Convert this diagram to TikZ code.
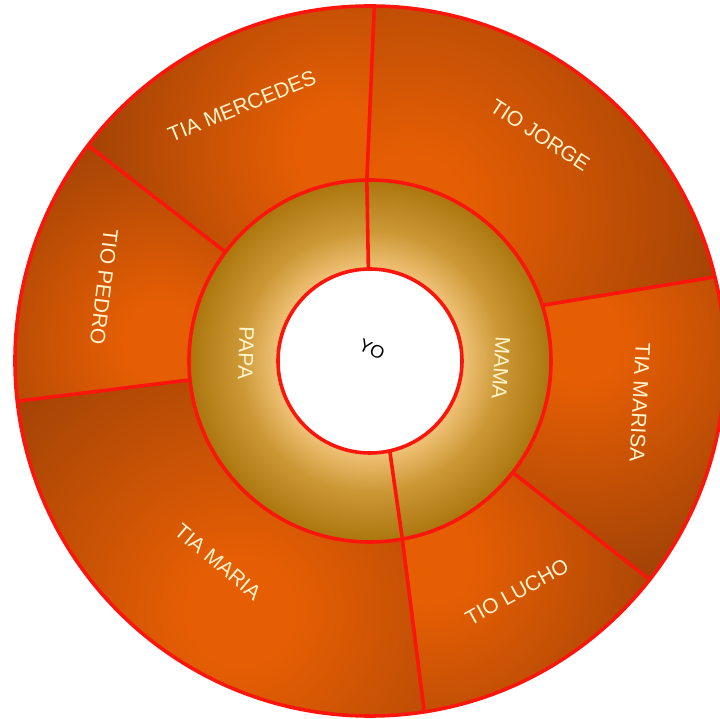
\documentclass[tikz,border=0pt]{standalone}
\usepackage{fontspec}
\setmainfont{Liberation Sans}
\definecolor{rimred}{RGB}{250,22,12}
\definecolor{segbright}{RGB}{230,94,4}
\definecolor{segdark}{RGB}{160,66,6}
\definecolor{ringlight}{RGB}{238,192,116}
\definecolor{ringmid}{RGB}{204,152,54}
\definecolor{ringdark}{RGB}{172,118,14}
\definecolor{labelcream}{RGB}{255,244,204}
\pgfdeclareradialshading{segglow}{\pgfpoint{0bp}{0bp}}{color(0bp)=(segbright); color(4bp)=(segbright); color(25bp)=(segdark); color(50bp)=(segdark)}
\pgfdeclareradialshading{ringglow}{\pgfpoint{0bp}{0bp}}{color(0bp)=(ringlight); color(13bp)=(ringlight); color(18bp)=(ringmid); color(25bp)=(ringdark); color(50bp)=(ringdark)}

\begin{document}
\begin{tikzpicture}[x=1pt, y=1pt, rim/.style={rimred, line width=3.6}, lbl/.style={text=labelcream, font=\fontsize{21}{25}\selectfont, inner sep=0pt}]
	\path[use as bounding box, clip] (-370,-358) rectangle (350,361);
	\fill[segdark] (0,0) circle (355);
	\foreach \ai/\ao/\bi/\bo/\cx/\cy/\rr in {17.9/13.7/91/89.3/40/150/330, 91/89.3/143/142.6/-30/211/260, 143/142.6/186/186.5/-210/20/220, 186/186.5/280.3/278.8/-130/-250/320, 280.3/278.8/322/322/60/-199/260, 322/322/377.9/373.7/210/21/250} {
		\begin{scope}
			\clip (0,0) circle (355);
			\clip (\ai:181) -- (\ao:355) -- (\ao:440) -- ({(\ao+\bo)/2}:640) -- (\bo:440) -- (\bo:355) -- (\bi:181) -- cycle;
			\shade[shading=segglow] (\cx,\cy) circle (\rr);
		\end{scope}
	}
	\shade[shading=ringglow, even odd rule] (0,0) circle (181) (0,0) circle (92);
	\fill[white] (0,0) circle (92);
	\draw[rim] (0,0) circle (355);
	\draw[rim] (0,0) circle (181);
	\draw[rim] (0,0) circle (92);
	\foreach \ai/\ri/\ao/\ro in {91/181/89.3/355, 143/181/142.6/355, 186/181/186.5/355, -79.7/181/-81.2/355, -38/181/-38/355, 17.9/181/13.7/355, 91/92/91/181, -77.6/92/-79.7/181} {\draw[rim] (\ai:\ri) -- (\ao:\ro);}
	\node[font=\fontsize{18}{22}\selectfont, rotate=-25] (yo) at (2,12) {YO};
	\node[lbl, rotate=-92] (papa) at (-124,8) {PAPA};
	\node[lbl, rotate=-94] (mama) at (131,-7) {MAMA};
	\node[lbl, rotate=22] (mercedes) at (-128,255) {TIA MERCEDES};
	\node[lbl, rotate=-33] (jorge) at (170,226) {TIO JORGE};
	\node[lbl, rotate=-97] (pedro) at (-266,74) {TIO PEDRO};
	\node[lbl, rotate=-93] (marisa) at (270,-41) {TIA MARISA};
	\node[lbl, rotate=-40] (maria) at (-152,-201) {TIA MARIA};
	\node[lbl, rotate=29] (lucho) at (147,-231) {TIO LUCHO};
\end{tikzpicture}
\end{document}
